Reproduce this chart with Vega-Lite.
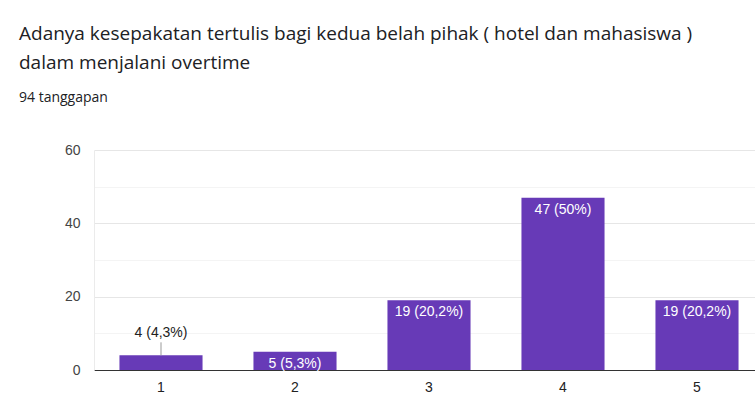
{
  "$schema": "https://vega.github.io/schema/vega-lite/v6.json",
  "autosize": {"type": "none"},
  "width": 661,
  "height": 220,
  "padding": {"left": 94, "top": 150, "right": 0, "bottom": 48},
  "background": "white",
  "title": {
    "text": ["Adanya kesepakatan tertulis bagi kedua belah pihak ( hotel dan mahasiswa )", "dalam menjalani overtime"],
    "subtitle": "94 tanggapan",
    "anchor": "start",
    "frame": "group",
    "dx": -75,
    "offset": 38,
    "font": "Open Sans",
    "fontSize": 19,
    "fontWeight": "normal",
    "lineHeight": 29,
    "color": "#202124",
    "subtitleFont": "Open Sans",
    "subtitleFontSize": 14,
    "subtitleColor": "#202124",
    "subtitlePadding": 18
  },
  "config": {
    "view": {"stroke": null},
    "axis": {"labelFont": "Liberation Sans", "labelFontSize": 14, "ticks": false, "title": null}
  },
  "data": {
    "values": [
      {"skala": "1", "jumlah": 4, "label": "4 (4,3%)"},
      {"skala": "2", "jumlah": 5, "label": "5 (5,3%)"},
      {"skala": "3", "jumlah": 19, "label": "19 (20,2%)"},
      {"skala": "4", "jumlah": 47, "label": "47 (50%)"},
      {"skala": "5", "jumlah": 19, "label": "19 (20,2%)"}
    ]
  },
  "encoding": {
    "x": {
      "field": "skala", "type": "ordinal",
      "scale": {"range": [0, 670], "paddingInner": 0.38, "paddingOuter": 0.19},
      "axis": {"labelAngle": 0, "labelColor": "#222222", "labelPadding": 10, "domainColor": "#333333", "domainWidth": 1, "grid": false}
    },
    "y": {
      "field": "jumlah", "type": "quantitative",
      "scale": {"domain": [0, 60], "nice": false},
      "axis": {
        "values": [0, 10, 20, 30, 40, 50, 60],
        "labelExpr": "datum.value % 20 === 0 ? datum.label : ''",
        "labelColor": "#444444",
        "labelPadding": 14,
        "domainColor": "#ebebeb",
        "gridColor": {"condition": {"test": "datum.value % 20 === 0", "value": "#e6e6e6"}, "value": "#f4f4f4"}
      }
    }
  },
  "layer": [
    {"mark": {"type": "bar", "color": "#673ab7"}},
    {
      "transform": [{"filter": "datum.jumlah >= 5"}],
      "mark": {"type": "text", "baseline": "top", "dy": 5, "color": "white", "font": "Liberation Sans", "fontSize": 14},
      "encoding": {"text": {"field": "label"}}
    },
    {
      "transform": [{"filter": "datum.jumlah < 5"}],
      "mark": {"type": "text", "baseline": "alphabetic", "dy": -18, "color": "#222222", "font": "Liberation Sans", "fontSize": 14},
      "encoding": {"text": {"field": "label"}}
    },
    {
      "transform": [{"filter": "datum.jumlah < 5"}],
      "mark": {"type": "rule", "color": "#999999", "y2Offset": -13},
      "encoding": {"y2": {"field": "jumlah"}}
    }
  ]
}
